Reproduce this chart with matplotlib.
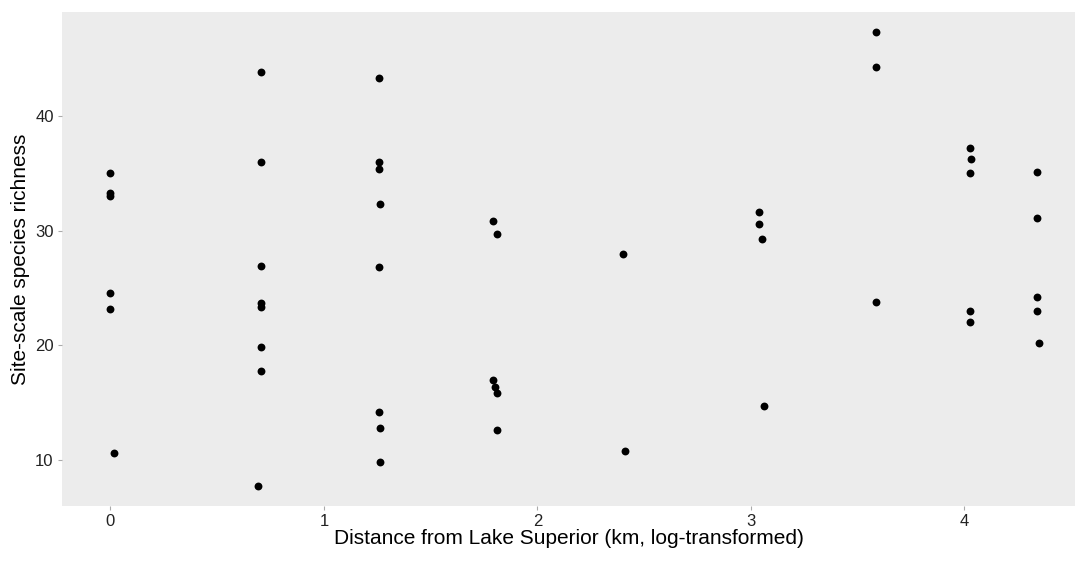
import numpy as np
import matplotlib
matplotlib.use("Agg")
import matplotlib.pyplot as plt

plt.rcParams['font.family'] = ['Liberation Sans', 'DejaVu Sans']

# log distance (km) and site-scale richness
dist = [0.0, 0.0, 0.0, 0.0, 0.0, 0.015,
        0.705, 0.705, 0.705, 0.705, 0.705, 0.705, 0.705, 0.692,
        1.258, 1.258, 1.258, 1.262, 1.258, 1.258, 1.262, 1.262,
        1.79, 1.81, 1.79, 1.80, 1.81, 1.81,
        2.40, 2.41,
        3.04, 3.04, 3.05, 3.06,
        3.585, 3.585, 3.585,
        4.026, 4.03, 4.026, 4.026, 4.026,
        4.338, 4.338, 4.338, 4.338, 4.35]
rich = [35.05, 33.3, 33.0, 24.6, 23.2, 10.64,
        43.8, 36.0, 26.9, 23.7, 23.3, 19.85, 17.8, 7.73,
        43.3, 36.0, 35.4, 32.35, 26.8, 14.2, 12.8, 9.83,
        30.84, 29.68, 16.97, 16.4, 15.87, 12.6,
        27.96, 10.81,
        31.65, 30.6, 29.3, 14.73,
        47.34, 44.3, 23.75,
        37.17, 36.27, 35.0, 23.0, 22.06,
        35.1, 31.07, 24.18, 23.0, 20.23]

xticks = [0, 1, 2, 3, 4]
yticks = [10, 20, 30, 40]

fig = plt.figure(figsize=(10.75, 5.62), dpi=100)
ax = fig.add_axes([0.0577, 0.0996, 0.9423, 0.879])
ax.set_facecolor('#ececec')
ax.scatter(dist, rich, s=32, color='black', zorder=3, linewidths=0)

ax.set_xlim(-0.227, 4.518)
ax.set_ylim(5.99, 49.06)
ax.set_xticks(xticks)
ax.set_yticks(yticks)
ax.tick_params(colors='#aaaaaa', length=3, width=0.8, labelsize=12,
               labelcolor='#222222', pad=3)
for s in ax.spines.values():
    s.set_visible(False)

ax.set_xlabel('Distance from Lake Superior (km, log-transformed)', fontsize=15,
              color='black', labelpad=0)
ax.set_ylabel('Site-scale species richness', fontsize=15, color='black', labelpad=4)

fig.savefig('out.png', dpi=100)
